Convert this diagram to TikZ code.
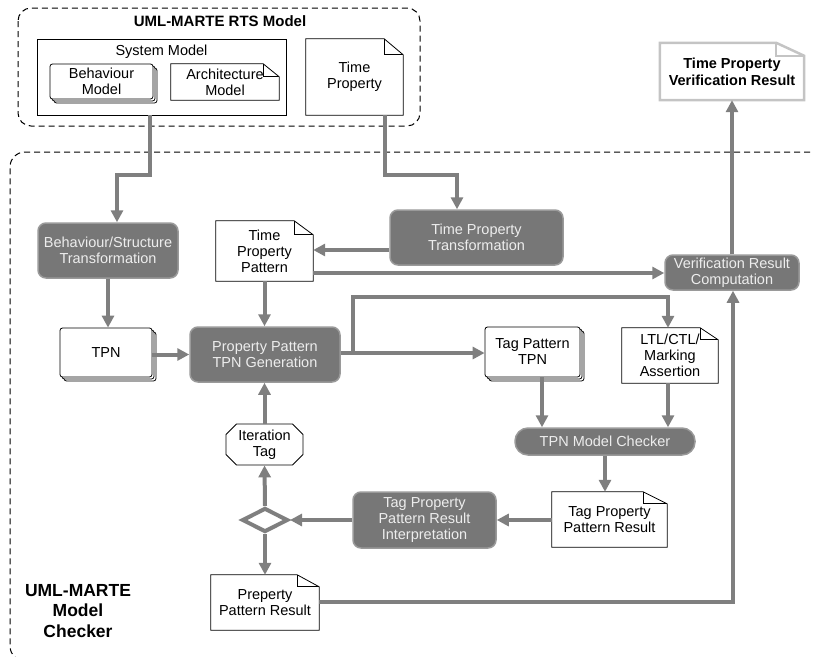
\documentclass[tikz,border=0pt]{standalone}
\usepackage{fontspec}
\setmainfont{Liberation Sans}
\usetikzlibrary{arrows.meta,shapes.geometric,shapes.misc,shadows,calc}
\definecolor{arrgray}{HTML}{7F7F7F}
\definecolor{boxfill}{HTML}{777777}
\definecolor{boxedge}{HTML}{9A9A9A}
\definecolor{boxtext}{HTML}{EDEDED}
\definecolor{lightedge}{HTML}{C4C4C4}
\newcommand\notebox[4]{%
  \draw[#2] (#1.north west) -- ([xshift=-#3]#1.north east) -- ([yshift=-#4]#1.north east) -- (#1.south east) -- (#1.south west) -- cycle;
  \draw[#2] ([xshift=-#3]#1.north east) -- ([xshift=-#3,yshift=-#4]#1.north east) -- ([yshift=-#4]#1.north east);}
\begin{document}
\begin{tikzpicture}[x=1pt,y=-1pt,font=\fontsize{14.5}{16}\selectfont,
  proc/.style={draw=boxedge,line width=1.5pt,fill=boxfill,text=boxtext,rounded corners=8pt,align=center,inner sep=0pt},
  doc/.style={align=center,inner sep=0pt},
  stackdoc/.style={draw=black,line width=0.8pt,fill=white,rounded corners=2.5pt,align=center,inner sep=0pt,
    double copy shadow={shadow xshift=2pt,shadow yshift=-2pt}},
  arr/.style={draw=arrgray,line width=4pt,-{Triangle[length=12pt,width=12pt]},line join=miter},
  ln/.style={draw=arrgray,line width=4pt,line join=miter},
  dashbox/.style={draw=black,line width=1pt,dash pattern=on 6pt off 4pt},
  thin/.style={draw=black,line width=0.8pt}]
\useasboundingbox (0,0) rectangle (813,656);
% containers
\draw[dashbox,rounded corners=13pt] (18,8) rectangle (420,126);
\begin{scope}
\clip (0,0) rectangle (813,656);
\draw[dashbox,rounded corners=15pt] (840,152) -- (10,152) -- (10,661) -- (840,661);
\end{scope}
\node[font=\fontsize{15}{17}\selectfont\bfseries] (rtstitle) at (220,21) {UML-MARTE RTS Model};
\node[font=\fontsize{17.5}{20.5}\selectfont\bfseries,align=center] (mctitle) at (78,611) {UML-MARTE\\Model\\Checker};
% top model
\node[thin,minimum width=249pt,minimum height=76pt,inner sep=0pt] (sysm) at (161.5,77) {};
\node (sysmlabel) at (161.5,52) {System Model};
\node[stackdoc,minimum width=103pt,minimum height=35pt] (beh) at (101.5,81.5) {Behaviour\\Model};
\node[doc,minimum width=108pt,minimum height=36pt] (arch) at (225,82) {Architecture\\Model};
\notebox{arch}{thin}{16pt}{13pt}
\node[doc,minimum width=97pt,minimum height=76pt] (tp) at (354.5,77) {Time\\Property};
\notebox{tp}{thin}{19pt}{16pt}
% result
\node[doc,minimum width=144pt,minimum height=57pt,font=\fontsize{14.5}{17}\selectfont\bfseries] (tpvr) at (732,71.5) {Time Property\\Verification Result};
\notebox{tpvr}{draw=lightedge,line width=2.5pt,line join=miter}{28pt}{13pt}
% processes
\node[proc,minimum width=140pt,minimum height=55pt] (bst) at (108,250.5) {Behaviour/Structure\\Transformation};
\node[proc,minimum width=173pt,minimum height=55pt] (tpt) at (476.5,237.5) {Time Property\\Transformation};
\node[proc,minimum width=150pt,minimum height=55pt] (pptg) at (265,354.5) {Property Pattern\\TPN Generation};
\node[proc,minimum width=134pt,minimum height=35pt] (vrc) at (732,272.5) {Verification Result\\Computation};
\node[proc,minimum width=180pt,minimum height=27pt,rounded corners=13pt] (tmc) at (605,441.5) {TPN Model Checker};
\node[proc,minimum width=143pt,minimum height=56pt] (tppri) at (424.5,520) {Tag Property\\Pattern Result\\Interpretation};
% documents
\node[doc,minimum width=97pt,minimum height=60pt] (tpp) at (264.5,251) {Time\\Property\\Pattern};
\notebox{tpp}{thin}{19pt}{14pt}
\node[stackdoc,minimum width=92pt,minimum height=49pt] (tpn) at (106,352.5) {TPN};
\node[stackdoc,minimum width=95pt,minimum height=50pt] (tagtpn) at (532.5,352) {Tag Pattern\\TPN};
\node[doc,minimum width=96pt,minimum height=55pt] (ltl) at (670,355.5) {LTL/CTL/\\Marking\\Assertion};
\notebox{ltl}{thin}{18pt}{12pt}
\node[doc,minimum width=115pt,minimum height=55pt] (tppr) at (609.5,519.5) {Tag Property\\Pattern Result};
\notebox{tppr}{thin}{24pt}{12pt}
\node[doc,minimum width=108pt,minimum height=55pt] (ppr) at (265,602.5) {Preperty\\Pattern Result};
\notebox{ppr}{thin}{22pt}{12pt}
\node[draw=black,line width=0.8pt,chamfered rectangle,chamfered rectangle xsep=7pt,minimum width=77pt,minimum height=41pt,inner sep=0pt,align=center] (it) at (264.5,444.5) {Iteration\\Tag};
\node[draw=arrgray,line width=4pt,fill=white,diamond,minimum width=46pt,minimum height=24pt,inner sep=0pt] (dia) at (265,520) {};
% connectors
\draw[arr] (150,0 |- sysm.south) -- (150,175) -- (117,175) -- (117,0 |- bst.north);
\draw[arr] (385,0 |- tp.south) -- (385,175) -- (457,175) -- (457,0 |- tpt.north);
\draw[arr] (bst.south) -- (bst.south |- tpn.north);
\draw[arr] (tpn.east |- pptg.west) -- (pptg.west);
\draw[arr] (tpt.west |- 0,250) -- (tpp.east |- 0,250);
\draw[arr] (tpp.south) -- (tpp.south |- pptg.north);
\draw[arr] (tpp.east |- 0,273) -- (vrc.west |- 0,273);
\draw[arr] (vrc.north) -- (tpvr.south);
\draw[arr] (pptg.east |- 0,353) -- (tagtpn.west |- 0,353);
\draw[arr] (353,353) -- (353,297) -- (668,297) -- (668,0 |- ltl.north);
\draw[arr] (542,0 |- tagtpn.south) -- (542,0 |- tmc.north);
\draw[arr] (668,0 |- ltl.south) -- (668,0 |- tmc.north);
\draw[arr] (tmc.south) -- (tmc.south |- tppr.north);
\draw[arr] (tppr.west |- dia.east) -- (tppri.east |- dia.east);
\draw[arr] (tppri.west |- dia.east) -- (dia.east);
\draw[arr] (dia.north) -- (it.south);
\draw[arr] (it.north) -- (it.north |- pptg.south);
\draw[arr] (dia.south) -- (dia.south |- ppr.north);
\draw[arr] (ppr.east |- 0,602) -- (733,602) -- (733,0 |- vrc.south);
\end{tikzpicture}
\end{document}
